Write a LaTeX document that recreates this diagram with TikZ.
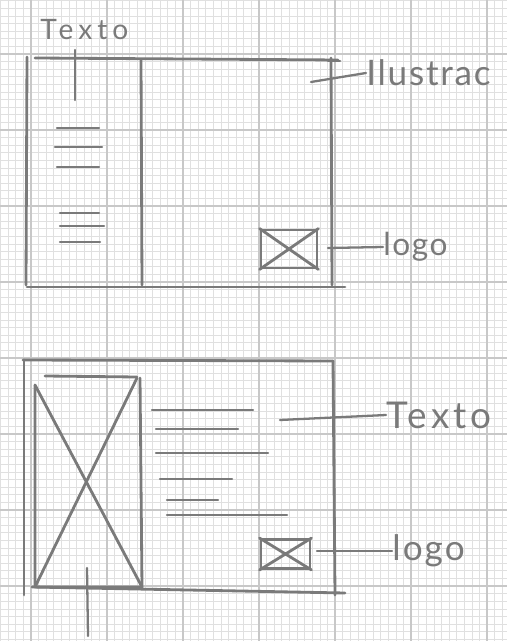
\documentclass[tikz,border=0pt]{standalone}
\usepackage{fontspec}
\setsansfont{Lato}
\usetikzlibrary{positioning, calc}
\definecolor{pen}  {RGB}{122,122,122}
\definecolor{gmin} {RGB}{224,224,224}
\definecolor{gmaj} {RGB}{200,200,200}
\tikzset{
  % pencil stroke of the sketch
  Pen/.style={draw=pen,line width=1.6pt,line cap=round,line join=round},
  % short text-line marks
  Ln/.style={draw=pen,line width=1.4pt,line cap=round},
  % leader line to a label
  Lead/.style={draw=pen,line width=1.3pt,line cap=round},
  % handwritten label: size, letter spacing
  Lbl/.style 2 args={text=pen,font=\sffamily\fontsize{#1}{#1}\selectfont
              \addfontfeatures{LetterSpace=#2},
              inner sep=0pt,anchor=west},
  % graph paper
  GMin/.style={draw=gmin,line width=0.35pt},
  GMaj/.style={draw=gmaj,line width=0.6pt},
}
\begin{document}
\begin{tikzpicture}[x=0.02cm,y=-0.02cm]
  \useasboundingbox (0,0) rectangle (507,641);
  \fill[white] (0,0) rectangle (507,641);
  % graph paper
  \foreach \i in {0,...,66}
    \draw[GMin] ({0.6+7.6*\i},0) -- ({0.6+7.6*\i},641);
  \foreach \j in {0,...,84}
    \draw[GMin] (0,{0.8+7.6*\j}) -- (507,{0.8+7.6*\j});
  \foreach \i in {0,...,6}
    \draw[GMaj] ({31+76*\i},0) -- ({31+76*\i},641);
  \foreach \j in {0,...,7}
    \draw[GMaj] (0,{54+76*\j}) -- (507,{54+76*\j});

  % ---- upper sketch ----
  \draw[Pen] (35,58) -- (338,60);
  \draw[Pen] (27,57) -- (26,285);
  \draw[Pen] (27,287) -- (345,287);
  \draw[Pen] (331,58) -- (332,285);
  \draw[Pen] (141,60) -- (142,285);
  \draw[Pen] (328,61) -- (340,61);
  % text column
  \node[Lbl={16pt}{18}] at (40,30) (t1) {Texto};
  \coordinate (t1e) at (75,100);
  \draw[Lead] (75,50) -- (t1e);
  \foreach \y/\a/\b in {128/57/99,147/55/102,167/57/99,213/60/99,226/60/104,242/60/100}
    \draw[Ln] (\a,\y) -- (\b,\y);
  % illustration label
  \node[Lbl={20pt}{5}] at (366,73) (ilu) {Ilustrac};
  \coordinate (iluE) at (311,82);
  \draw[Lead] (iluE) -- (ilu.west);
  % logo
  \node[Pen,rectangle,minimum width=56*0.02cm,minimum height=38*0.02cm,
        inner sep=0pt] at (289,249) (lg1) {};
  \draw[Pen] (lg1.north west) -- (lg1.south east)
             (lg1.south west) -- (lg1.north east);
  \node[Lbl={18pt}{5}] at (383,247) (lb1) {logo};
  \coordinate (lg1e) at (328,248);
  \draw[Lead] (lg1e) -- (lb1.west);

  % ---- lower sketch ----
  \draw[Pen] (23,360) -- (333,361);
  \draw[Pen] (24,360) -- (24,595);
  \draw[Pen] (32,587) -- (345,593);
  \draw[Pen] (333,361) -- (335,595);
  % picture box
  \coordinate (picNW) at (35,385);
  \coordinate (picNE) at (137,378);
  \coordinate (picSW) at (35,587);
  \coordinate (picSE) at (142,587);
  \draw[Pen] (picNW) -- (picSW) -- (picSE) -- (140,378);
  \draw[Pen] (45,376) -- (137,377);
  \draw[Pen] (picNW) -- (picSE)
             (picSW) -- (picNE);
  \coordinate (picE) at (88,636);
  \draw[Lead] (87,568) -- (picE);
  % text lines
  \foreach \y/\a/\b in {410/152/253,429/156/238,453/156/268,479/160/232,500/167/218,515/167/287}
    \draw[Ln] (\a,\y) -- (\b,\y);
  \node[Lbl={21pt}{11}] at (386,415) (t2) {Texto};
  \coordinate (t2e) at (280,420);
  \draw[Lead] (t2e) -- (t2.west);
  % logo
  \node[Pen,rectangle,minimum width=49*0.02cm,minimum height=29*0.02cm,
        inner sep=0pt] at (285.5,554) (lg2) {};
  \draw[Pen] (lg2.north west) -- (lg2.south east)
             (lg2.south west) -- (lg2.north east);
  \node[Lbl={20pt}{6}] at (392,551) (lb2) {logo};
  \coordinate (lg2e) at (317,551);
  \draw[Lead] (lg2e) -- (lb2.west);
\end{tikzpicture}
\end{document}
